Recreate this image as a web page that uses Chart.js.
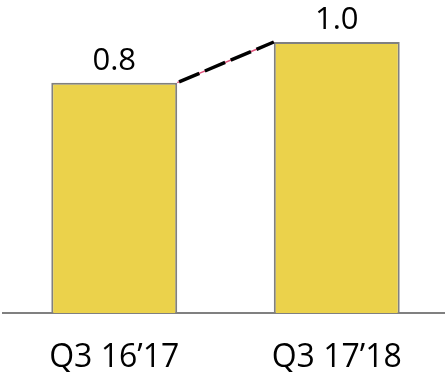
<!DOCTYPE html>
<html>
<head>
<meta charset="utf-8">
<script src="https://cdn.jsdelivr.net/npm/chart.js@4"></script>
<style>
  html, body { margin: 0; padding: 0; background: #ffffff; overflow: hidden; }
  #wrap { width: 445px; height: 372px; overflow: hidden; }
</style>
</head>
<body>
<div id="wrap"><canvas id="c" width="448" height="372"></canvas></div>
<script>
const categories = ['Q3 16\u201917', 'Q3 17\u201918'];
const values = [0.85, 1.0];
const valueLabels = ['0.8', '1.0'];

const FONT = '"Open Sans", sans-serif';

const labelPlugin = {
  id: 'valueLabels',
  afterDatasetsDraw(chart) {
    const ctx = chart.ctx;
    const meta = chart.getDatasetMeta(0);
    const a = meta.data[0], b = meta.data[1];
    const x1 = a.x + a.width / 2, y1 = a.y;
    const x2 = b.x - b.width / 2, y2 = b.y;
    ctx.save();
    ctx.lineCap = 'butt';
    ctx.strokeStyle = '#e0507a';
    ctx.lineWidth = 1.5;
    ctx.beginPath(); ctx.moveTo(x1, y1); ctx.lineTo(x2, y2); ctx.stroke();
    ctx.strokeStyle = '#000000';
    ctx.lineWidth = 3.5;
    ctx.setLineDash([22, 6]);
    ctx.lineDashOffset = -2;
    ctx.beginPath(); ctx.moveTo(x1, y1); ctx.lineTo(x2, y2); ctx.stroke();
    ctx.restore();

    ctx.save();
    ctx.font = '31px ' + FONT;
    ctx.fillStyle = '#000000';
    ctx.textAlign = 'center';
    ctx.textBaseline = 'alphabetic';
    meta.data.forEach((el, i) => {
      ctx.fillText(valueLabels[i], el.x, el.y - 13);
    });
    ctx.restore();
  }
};

new Chart(document.getElementById('c'), {
  type: 'bar',
  data: {
    labels: categories,
    datasets: [{
      data: values,
      backgroundColor: '#ebd24b',
      borderColor: '#808080',
      borderWidth: 2,
      borderSkipped: 'bottom',
      categoryPercentage: 1,
      barPercentage: 0.566
    }]
  },
  options: {
    responsive: false,
    animation: false,
    devicePixelRatio: 1,
    layout: { padding: { top: 42, left: 3, right: 0, bottom: 0 } },
    plugins: { legend: { display: false }, tooltip: { enabled: false } },
    scales: {
      x: {
        grid: { display: false, drawTicks: false },
        border: { display: true, color: '#808080', width: 2 },
        ticks: { color: '#000000', font: { family: FONT, size: 32 }, padding: 26 },
        afterFit(scale) { scale.height = 59; }
      },
      y: {
        display: false,
        min: 0,
        max: 1.0
      }
    }
  },
  plugins: [labelPlugin]
});
</script>
</body>
</html>
